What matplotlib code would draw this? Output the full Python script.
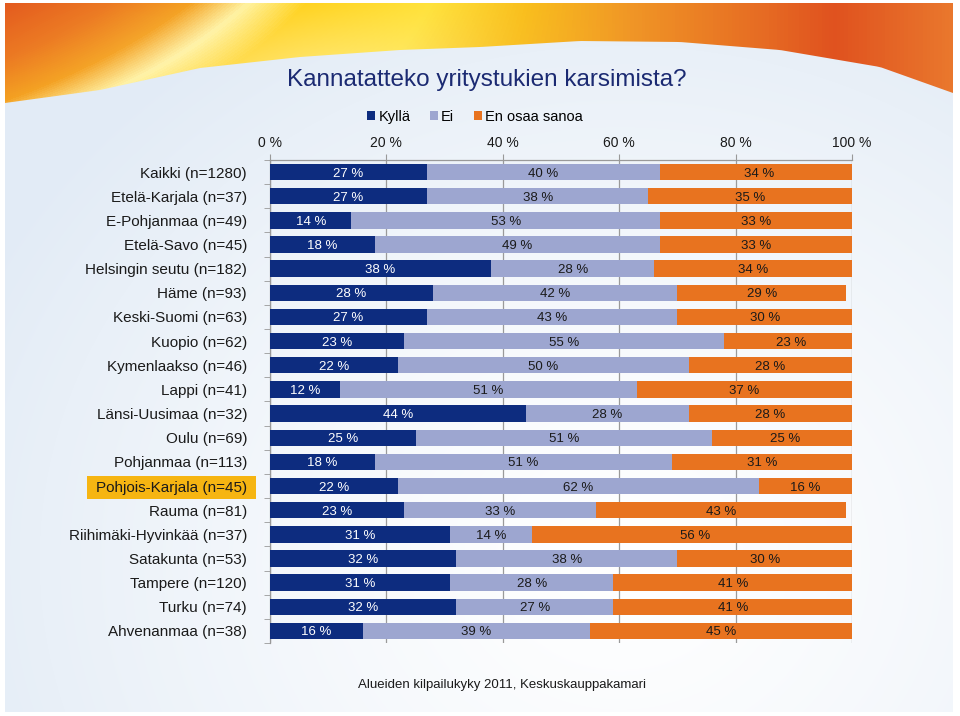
import numpy as np
import matplotlib
matplotlib.use("Agg")
import matplotlib.pyplot as plt
from matplotlib.patches import Polygon, Patch, Rectangle
from matplotlib.colors import LinearSegmentedColormap
from matplotlib.transforms import IdentityTransform

plt.rcParams['font.family'] = ['Liberation Sans', 'DejaVu Sans']

categories = ["Kaikki (n=1280)", "Etelä-Karjala (n=37)", "E-Pohjanmaa (n=49)", "Etelä-Savo (n=45)",
              "Helsingin seutu (n=182)", "Häme (n=93)", "Keski-Suomi (n=63)", "Kuopio (n=62)",
              "Kymenlaakso (n=46)", "Lappi (n=41)", "Länsi-Uusimaa (n=32)", "Oulu (n=69)",
              "Pohjanmaa (n=113)", "Pohjois-Karjala (n=45)", "Rauma (n=81)", "Riihimäki-Hyvinkää (n=37)",
              "Satakunta (n=53)", "Tampere (n=120)", "Turku (n=74)", "Ahvenanmaa (n=38)"]
kylla = [27, 27, 14, 18, 38, 28, 27, 23, 22, 12, 44, 25, 18, 22, 23, 31, 32, 31, 32, 16]
ei = [40, 38, 53, 49, 28, 42, 43, 55, 50, 51, 28, 51, 51, 62, 33, 14, 38, 28, 27, 39]
en_osaa = [34, 35, 33, 33, 34, 29, 30, 23, 28, 37, 28, 25, 31, 16, 43, 56, 30, 41, 41, 45]
series_names = ["Kyllä", "Ei", "En osaa sanoa"]
xticks = [0, 20, 40, 60, 80, 100]
highlight = "Pohjois-Karjala (n=45)"
title = "Kannatatteko yritystukien karsimista?"
source = "Alueiden kilpailukyky 2011, Keskuskauppakamari"

colors = ["#0D2C7F", "#9DA6D0", "#E8731F"]
text_colors = ["white", "#1a1a1a", "#1a1a1a"]

W, H = 960, 716
fig = plt.figure(figsize=(W / 100, H / 100), dpi=100)

# background
bg = fig.add_axes([0, 0, 1, 1])
bg.axis('off')
yy, xx = np.mgrid[0:H, 0:W]
d = np.sqrt(((xx - 620) / 700.0) ** 2 + ((yy - 560) / 620.0) ** 2)
d = np.clip(d, 0, 1) ** 1.3
c0 = np.array([1.0, 1.0, 1.0])
c1 = np.array([0.89, 0.925, 0.965])
img = c0[None, None, :] * (1 - d[..., None]) + c1[None, None, :] * d[..., None]
# thin white frame
img[:, :5] = 1.0
img[:, W - 7:] = 1.0
img[H - 4:, :] = 1.0
img[:3, :] = 1.0
bg.imshow(img, extent=[0, W, H, 0], aspect='auto', zorder=0)

# swoosh
sx = np.linspace(5, W - 7, 200)
bx = [5, 100, 200, 300, 400, 480, 580, 680, 780, 880, 953]
by = [103, 90, 68, 57, 50, 47, 41, 42, 50, 67, 93]
sy = np.interp(sx, bx, by)
verts = [(5, 3)] + list(zip(sx, sy)) + [(W - 7, 3)]
poly = Polygon(verts, closed=True, facecolor='none', edgecolor='none')
bg.add_patch(poly)
cm = LinearSegmentedColormap.from_list("sw", [(0.0, "#E3581F"), (0.12, "#EC7A22"), (0.2, "#F4A020"),
                                              (0.26, "#FFF2A0"), (0.32, "#FFD21E"), (0.45, "#FFE23A"),
                                              (0.55, "#F9BE1C"), (0.66, "#F09526"), (0.8, "#E66A23"),
                                              (0.87, "#E0521F"), (1.0, "#EA7A2E")])
gy, gx = np.mgrid[0:110, 0:W]
t = gx + 1.9 * gy * np.clip(1 - gx / 600.0, 0, 1)
t = np.clip(t / W, 0, 1)
grad = cm(t)[..., :3]
sheen = (gy / 110.0)[..., None]
wmask = np.exp(-((gx / W - 0.33) / 0.16) ** 2)[..., None]
grad = grad * (1 - 0.5 * sheen * wmask) + 0.5 * sheen * wmask
im = bg.imshow(grad, extent=[0, W, 110, 0], aspect='auto', zorder=1)
im.set_clip_path(poly)
bg.set_xlim(0, W)
bg.set_ylim(H, 0)

# main axes
left, right, top, bottom = 270, 852, 160, 643
ax = fig.add_axes([left / W, 1 - bottom / H, (right - left) / W, (bottom - top) / H])
ax.patch.set_alpha(0)
n = len(categories)
y = np.arange(n)
data = [kylla, ei, en_osaa]
starts = np.zeros(n)
for vals, col, tc in zip(data, colors, text_colors):
    vals = np.array(vals, dtype=float)
    ax.barh(y, vals, left=starts, height=0.68, color=col, zorder=3)
    for yi, s, v in zip(y, starts, vals):
        ax.text(s + v / 2, yi, f"{int(v)} %", ha='center', va='center_baseline', color=tc,
                fontsize=9.5, zorder=4)
    starts = starts + vals

ax.set_ylim(n - 0.5, -0.5)
ax.set_xlim(0, 100)
ax.xaxis.tick_top()
ax.set_xticks(xticks)
ax.set_xticklabels([f"{t} %" for t in xticks], fontsize=10, color='#1a1a1a')
ax.tick_params(axis='x', direction='out', length=4, color='#999999', pad=3)
ax.set_yticks(y)
ax.set_yticklabels(categories, fontsize=11, color='#1a1a1a')
ax.tick_params(axis='y', which='major', length=0, pad=16.5)
ax.set_yticks(np.arange(n + 1) - 0.5, minor=True)
ax.tick_params(axis='y', which='minor', direction='out', length=4, color='#999999')
ax.grid(axis='x', color='#9a9a9a', linewidth=0.9, zorder=0)
for s in ['right', 'bottom']:
    ax.spines[s].set_visible(False)
for s in ['top', 'left']:
    ax.spines[s].set_color('#999999')
    ax.spines[s].set_linewidth(0.9)

fig.text(487 / W, 1 - 80 / H, title, ha='center', va='center', fontsize=17.5, color='#1B2A72')
handles = [Patch(facecolor=c, edgecolor='none') for c in colors]
fig.legend(handles, series_names, loc='center', bbox_to_anchor=(475 / W, 1 - 117 / H), ncol=3,
           frameon=False, fontsize=10.5, handlelength=0.55, handleheight=0.55, handletextpad=0.2,
           columnspacing=1.35)
fig.text(502 / W, 1 - 685 / H, source, ha='center', va='center', fontsize=9.5, color='#1a1a1a')

# highlight box behind one category label (drawn on the background layer)
fig.canvas.draw()
renderer = fig.canvas.get_renderer()
for lab in ax.get_yticklabels():
    if lab.get_text() == highlight:
        bb = lab.get_window_extent(renderer)
        cy = (bb.y0 + bb.y1) / 2
        rect = Rectangle((bb.x0 - 9, cy - 11.5), bb.width + 18, 23, transform=IdentityTransform(),
                         facecolor='#F6B512', edgecolor='none', zorder=5)
        bg.add_patch(rect)

fig.savefig("out.png", dpi=100)
